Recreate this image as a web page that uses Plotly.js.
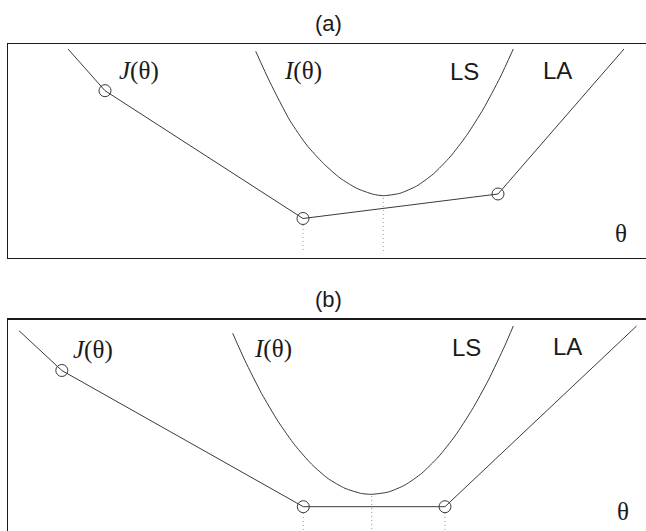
<!DOCTYPE html>
<html>
<head>
<meta charset="utf-8">
<script src="https://cdn.plot.ly/plotly-3.0.1.min.js"></script>
<style>
  html, body { margin: 0; padding: 0; background: #fff; overflow: hidden; }
  #plot { width: 650px; height: 535px; }
</style>
</head>
<body>
<div id="plot"></div>
<script>
// Two panels, (a) and (b): cost curves J(θ) (piecewise linear) and I(θ) (smooth).
// Units are arbitrary; axes carry no ticks.

// panel (a)
const thetaJa = [60, 97, 295, 490, 616];
const valJa   = [209, 167.3, 39.5, 64, 209];
const thetaIa = [247.7, 262, 282, 298.7, 315.3, 332, 348.7, 365.3, 375.3,
                 392, 408.7, 425.3, 442, 458.7, 475.3, 492, 505.3];
const valIa   = [206.7, 175.7, 137.3, 113, 94.7, 80, 69.7, 63.7, 62.3,
                 64.7, 72, 84, 101, 122.7, 149, 180.3, 209];
const dropsA  = [[295, 33, 6], [375.3, 60, 6]];   // [theta, top, bottom]

// panel (b)
const thetaJb = [11, 53.8, 295.3, 437, 628.6];
const valJb   = [202.3, 162.5, 26.3, 26.3, 207];
const thetaIb = [224.7, 237, 253.7, 270.3, 287, 303.7, 320.3, 337, 353.7, 363.7,
                 380.3, 397, 413.7, 430.3, 447, 463.7, 480.3, 497, 505.3];
const valIb   = [199.7, 172.3, 139.3, 111.3, 87.7, 68.7, 54.3, 44.7, 39.5, 38.7,
                 41, 48, 59.7, 76, 97, 122.7, 152.7, 187.7, 207];
const dropsB  = [[295.3, 20, 0], [363.7, 37, 0], [437, 20, 0]];

// labels: [text, theta, value, font]
const labelsA = [['<i>J</i>(θ)', 131, 187.5, 'serif'], ['<i>I</i>(θ)', 295, 187.3, 'serif'],
                 ['LS', 456, 187, 'sans'], ['LA', 549, 188, 'sans'], ['θ', 613, 24, 'serif']];
const labelsB = [['<i>J</i>(θ)', 85.3, 183, 'serif'], ['<i>I</i>(θ)', 265.3, 183.8, 'serif'],
                 ['LS', 458.2, 185.5, 'sans'], ['LA', 559, 186, 'sans'], ['θ', 614.8, 21.3, 'serif']];
const panelTitles = ['(a)', '(b)'];

const SERIF = 'Liberation Serif, Times New Roman, serif';
const SANS  = 'Liberation Sans, Arial, sans-serif';
const INK = '#3a3a3a';

function panelTraces(tJ, vJ, tI, vI, drops, xa, ya) {
    const out = [];
    drops.forEach(([t, top, bot]) => out.push({
        x: [t, t], y: [top, bot], xaxis: xa, yaxis: ya,
        mode: 'lines', type: 'scatter', hoverinfo: 'skip',
        line: { color: '#9a9a9a', width: 1, dash: '1px,3px' },
    }));
    out.push({
        x: tI, y: vI, xaxis: xa, yaxis: ya, mode: 'lines', type: 'scatter',
        line: { color: INK, width: 1, shape: 'spline', smoothing: 0.6 },
    });
    out.push({
        x: tJ, y: vJ, xaxis: xa, yaxis: ya, mode: 'lines', type: 'scatter',
        line: { color: INK, width: 1 },
    });
    out.push({
        x: tJ.slice(1, -1), y: vJ.slice(1, -1), xaxis: xa, yaxis: ya,
        mode: 'markers', type: 'scatter',
        marker: { symbol: 'circle-open', size: 12, color: INK, line: { color: INK, width: 1 } },
    });
    return out;
}

function panelLabels(labels, xr, yr) {
    return labels.map(([text, t, v, f]) => ({
        text, x: t, y: v, xref: xr, yref: yr, showarrow: false,
        xanchor: 'center', yanchor: 'middle',
        font: { family: f === 'serif' ? SERIF : SANS, size: f === 'serif' ? 25 : 24, color: '#1a1a1a' },
    }));
}

const axisBase = {
    showline: true, mirror: true, linecolor: '#1a1a1a', linewidth: 1.5,
    showgrid: false, zeroline: false, showticklabels: false, ticks: '',
    fixedrange: true,
};

const traces = [
    ...panelTraces(thetaJa, valJa, thetaIa, valIa, dropsA, 'x', 'y'),
    ...panelTraces(thetaJb, valJb, thetaIb, valIb, dropsB, 'x2', 'y2'),
];

const annotations = [
    ...panelLabels(labelsA, 'x', 'y'),
    ...panelLabels(labelsB, 'x2', 'y2'),
    { text: panelTitles[0], x: 0.5, y: 1.041, xref: 'paper', yref: 'paper', showarrow: false,
      xanchor: 'center', yanchor: 'middle', font: { family: SANS, size: 22, color: '#1a1a1a' } },
    { text: panelTitles[1], x: 0.5, y: 0.4765, xref: 'paper', yref: 'paper', showarrow: false,
      xanchor: 'center', yanchor: 'middle', font: { family: SANS, size: 22, color: '#1a1a1a' } },
];

const layout = {
    width: 650, height: 535,
    margin: { l: 8, r: 2, t: 44, b: 2 },
    paper_bgcolor: '#fff', plot_bgcolor: '#fff',
    showlegend: false,
    xaxis:  { ...axisBase, range: [0, 640], anchor: 'y' },
    yaxis:  { ...axisBase, range: [0, 214], domain: [0.5624, 1], anchor: 'x' },
    xaxis2: { ...axisBase, range: [0, 640], anchor: 'y2' },
    yaxis2: { ...axisBase, range: [0, 213], domain: [0, 0.4356], anchor: 'x2' },
    annotations,
};

Plotly.newPlot(document.getElementById('plot'), traces, layout,
               { displayModeBar: false, staticPlot: true });
</script>
</body>
</html>
